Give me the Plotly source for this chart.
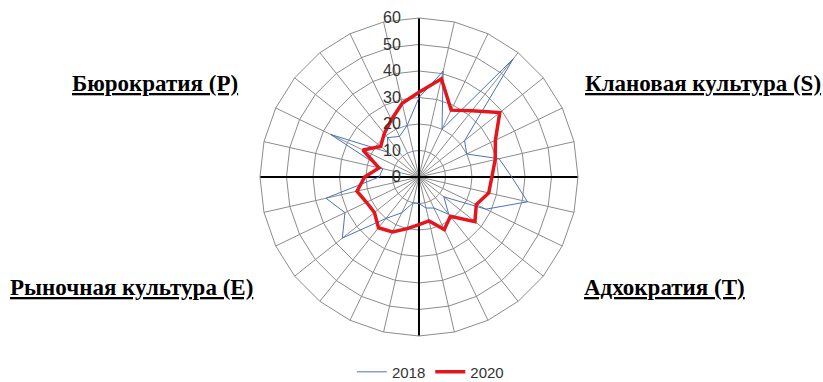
import plotly.graph_objects as go

# 28 questionnaire items arranged around the radar, clockwise from the top
items = [str(i) for i in range(1, 29)]

scores_2018 = [30, 41, 20, 57, 22, 20, 31, 35, 42, 28, 12, 18, 13, 12,
               10, 10, 15, 20, 37, 31, 36, 15, 14, 37, 15, 19, 17, 20]
scores_2020 = [32, 38, 28, 32, 39, 32, 29.5, 27.5, 27, 24, 27, 19, 22, 17,
               18, 20, 23, 24.5, 21.5, 22, 24, 20.5, 15.5, 23.5, 18.5, 21, 24, 28.5]

radial_ticks = [0, 10, 20, 30, 40, 50, 60]
r_max = 60

quadrant_labels = ["Бюрократия (P)", "Клановая культура (S)",
                   "Рыночная культура (E)", "Адхократия (T)"]

grid_col = "#8c8c8c"

fig = go.Figure()

# black cross dividing the four culture quadrants
fig.add_trace(go.Scatterpolar(
    r=[r_max, 0, r_max], theta=[items[0], items[0], items[14]],
    mode="lines", line=dict(color="black", width=2),
    showlegend=False, hoverinfo="skip"))
fig.add_trace(go.Scatterpolar(
    r=[r_max, 0, r_max], theta=[items[7], items[7], items[21]],
    mode="lines", line=dict(color="black", width=2),
    showlegend=False, hoverinfo="skip"))

# closed profiles
fig.add_trace(go.Scatterpolar(
    r=scores_2018 + scores_2018[:1], theta=items + items[:1],
    mode="lines", name="2018",
    line=dict(color="#4a72c0", width=1)))
fig.add_trace(go.Scatterpolar(
    r=scores_2020 + scores_2020[:1], theta=items + items[:1],
    mode="lines", name="2020",
    line=dict(color="#e3151d", width=3.5)))

fig.update_layout(
    width=823, height=382,
    margin=dict(l=0, r=0, t=0, b=0, autoexpand=False),
    paper_bgcolor="white",
    plot_bgcolor="white",
    font=dict(family="Liberation Sans", color="#404040"),
    polar=dict(
        domain=dict(x=[0.3159, 0.7023], y=[0.1204, 0.9529]),
        bgcolor="white",
        gridshape="linear",
        radialaxis=dict(
            range=[0, r_max], tickvals=radial_ticks,
            angle=90, side="counterclockwise", tickangle=90,
            showline=False, ticks="outside", ticklen=12,
            tickcolor="rgba(0,0,0,0)",
            gridcolor=grid_col, gridwidth=1,
            tickfont=dict(size=16, color="#333333",
                          family="Liberation Sans"),
        ),
        angularaxis=dict(
            type="category", categoryarray=items,
            direction="clockwise", rotation=90,
            showticklabels=False, ticks="",
            gridcolor=grid_col, gridwidth=1,
            showline=True, linecolor=grid_col, linewidth=1,
        ),
    ),
    legend=dict(
        orientation="h", x=0.523, xanchor="center",
        y=0.026, yanchor="middle",
        font=dict(size=15, color="#333333", family="Liberation Sans"),
        bgcolor="rgba(0,0,0,0)",
    ),
)

label_pos = [(155, 83), (703, 83), (131, 287), (664, 287)]
for text, (px, py) in zip(quadrant_labels, label_pos):
    fig.add_annotation(
        x=px / 823, y=1 - py / 382, xref="paper", yref="paper",
        text="<b>" + text + "</b>", showarrow=False,
        xanchor="center", yanchor="middle",
        font=dict(family="Liberation Serif", size=23, color="black",
                  lineposition="under"))

fig.write_html("out.html")
